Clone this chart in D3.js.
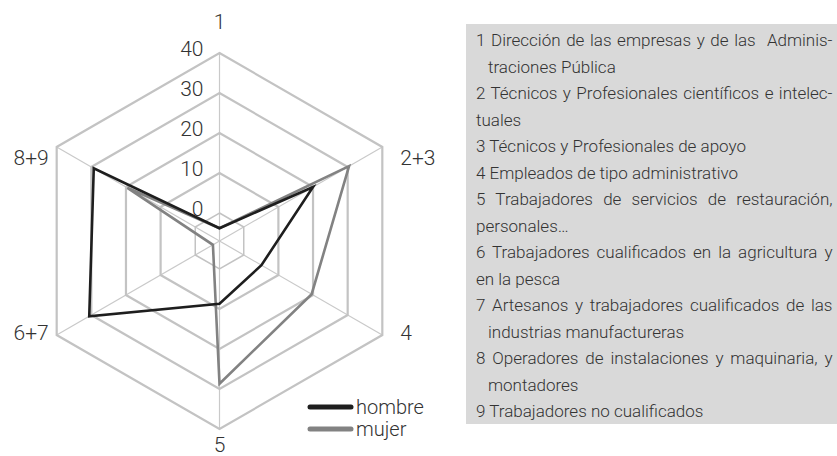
<!DOCTYPE html>
<html>
<head>
<meta charset="utf-8">
<script src="https://cdn.jsdelivr.net/npm/d3@7"></script>
<style>
  html, body { margin: 0; padding: 0; background: #ffffff; }
  svg { display: block; }
  text { font-family: Roboto, "Liberation Sans", Arial, sans-serif; font-weight: 300; }
</style>
</head>
<body>
<svg id="chart" width="837" height="456"></svg>
<script>
// ---- data ----
const axisLabels = ["1", "2+3", "4", "5", "6+7", "8+9"];
const hombre = [-3.8, 20.0, 5.1, 8.7, 30.6, 29.3];
const mujer  = [-3.8, 30.4, 19.6, 28.7, -5.1, 19.6];
const ringTicks = [0, 10, 20, 30, 40];
const seriesNames = ["hombre", "mujer"];
const noteLines = [
  "1 Dirección de las empresas y de las  Adminis-",
  "traciones Pública",
  "2 Técnicos y Profesionales científicos e intelec-",
  "tuales",
  "3 Técnicos y Profesionales de apoyo",
  "4 Empleados de tipo administrativo",
  "5 Trabajadores de servicios de restauración,",
  "personales…",
  "6 Trabajadores cualificados en la agricultura y",
  "en la pesca",
  "7 Artesanos y trabajadores cualificados de las",
  "industrias manufactureras",
  "8 Operadores de instalaciones y maquinaria, y",
  "montadores",
  "9 Trabajadores no cualificados"
];
const indentedLines = [1, 11, 13];
const justifiedLines = [0, 2, 6, 8, 10, 12];

// ---- layout ----
const svg = d3.select("#chart");
const cx = 219.5, cy = 241, R = 188;
const r = d3.scaleLinear().domain([-7, 40]).range([0, R]);
const n = axisLabels.length;
const ang = d3.scaleLinear().domain([0, n]).range([0, 2 * Math.PI]);
const pt = (i, v) => [cx + r(v) * Math.sin(ang(i)), cy - r(v) * Math.cos(ang(i))];

const radial = d3.lineRadial()
  .angle((d, i) => ang(i))
  .radius(d => r(d))
  .curve(d3.curveLinearClosed);

const g = svg.append("g").attr("transform", `translate(${cx},${cy})`);

// spokes
g.selectAll("line.spoke").data(axisLabels).join("line")
  .attr("class", "spoke")
  .attr("x1", 0).attr("y1", 0)
  .attr("x2", (d, i) => r(40) * Math.sin(ang(i)))
  .attr("y2", (d, i) => -r(40) * Math.cos(ang(i)))
  .attr("stroke", "#c9c9c9").attr("stroke-width", 1.2);

// rings
g.selectAll("path.ring").data(ringTicks).join("path")
  .attr("class", "ring")
  .attr("d", t => radial(axisLabels.map(() => t)))
  .attr("fill", "none")
  .attr("stroke", "#c3c3c3")
  .attr("stroke-width", t => t === 0 ? 1.5 : 2.2)
  .attr("stroke-linejoin", "miter");

// ring labels
svg.selectAll("text.tick").data(ringTicks).join("text")
  .attr("class", "tick")
  .attr("x", cx - 16)
  .attr("y", t => cy - r(t) + 3)
  .attr("text-anchor", "end")
  .attr("font-size", 21)
  .attr("fill", "#333333")
  .text(t => t);

// series
const series = [
  { name: seriesNames[1], values: mujer, color: "#828282" },
  { name: seriesNames[0], values: hombre, color: "#1e1e1e" }
];
g.selectAll("path.series").data(series).join("path")
  .attr("class", "series")
  .attr("d", s => radial(s.values))
  .attr("fill", "none")
  .attr("stroke", s => s.color)
  .attr("stroke-width", 2.6)
  .attr("stroke-linejoin", "miter");

// axis labels
svg.selectAll("text.axis").data(axisLabels).join("text")
  .attr("class", "axis")
  .each(function (d, i) {
    const [vx, vy] = pt(i, 40);
    const s = Math.sin(ang(i)), c = Math.cos(ang(i));
    const el = d3.select(this);
    if (Math.abs(s) < 0.01) {
      el.attr("x", vx).attr("text-anchor", "middle")
        .attr("y", c > 0 ? vy - 24 : vy + 23);
    } else {
      el.attr("x", s > 0 ? vx + 18 : vx - 8)
        .attr("text-anchor", s > 0 ? "start" : "end")
        .attr("y", c > 0 ? vy + 18 : vy + 5);
    }
  })
  .attr("font-size", 21)
  .attr("fill", "#333333")
  .text(d => d);

// legend
const leg = svg.append("g").attr("transform", "translate(308,407)");
const legColors = ["#1e1e1e", "#828282"];
seriesNames.forEach((name, i) => {
  const row = leg.append("g").attr("transform", `translate(0,${i * 22})`);
  row.append("line").attr("x1", 2).attr("x2", 43).attr("y1", 0).attr("y2", 0)
    .attr("stroke", legColors[i]).attr("stroke-width", 5).attr("stroke-linecap", "round");
  row.append("text").attr("x", 48).attr("y", 7)
    .attr("font-size", 20).attr("fill", "#333333").text(name);
});

// notes box
const boxX = 466, boxY = 24, boxRight = 837, boxBottom = 424;
svg.append("rect").attr("x", boxX).attr("y", boxY)
  .attr("width", boxRight - boxX).attr("height", boxBottom - boxY)
  .attr("fill", "#d9d9d9");

const textLeft = 476, textIndent = 488, textRight = 832.5;
const firstBase = 46, lineGap = 26.5;
noteLines.forEach((line, i) => {
  const x = indentedLines.includes(i) ? textIndent : textLeft;
  const t = svg.append("text")
    .attr("x", x).attr("y", firstBase + i * lineGap)
    .attr("font-size", 17).attr("fill", "#333333")
    .style("white-space", "pre")
    .text(line);
  if (justifiedLines.includes(i)) {
    const w = t.node().getComputedTextLength();
    const spaces = (line.match(/ /g) || []).length;
    const extra = (textRight - x - w) / spaces;
    t.attr("word-spacing", extra);
  }
});
</script>
</body>
</html>
